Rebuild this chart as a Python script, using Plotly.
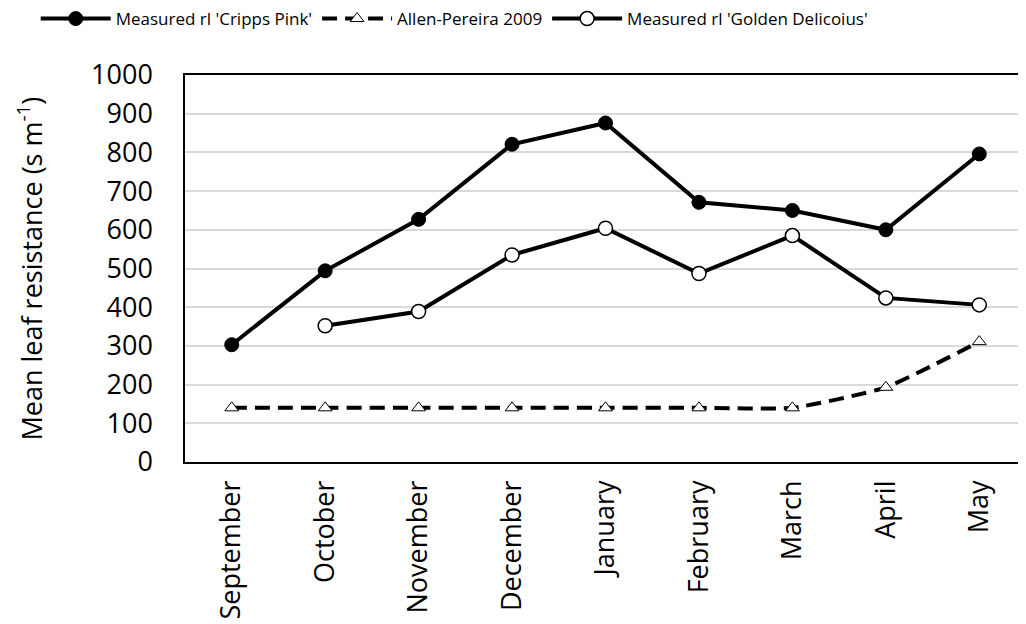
import plotly.graph_objects as go

months = ["September", "October", "November", "December", "January",
          "February", "March", "April", "May"]
cripps_pink = [303, 494, 627, 821, 876, 671, 650, 600, 796]
allen_pereira = [140, 140, 140, 140, 140, 140, 140, 193, 311]
golden_delicious = [None, 352, 389, 535, 604, 487, 585, 424, 406]
y_title = "Mean leaf resistance (s m<sup>-1</sup>)"

FONT = "Open Sans"

fig = go.Figure()
fig.add_trace(go.Scatter(
    x=months, y=cripps_pink, name="Measured rl 'Cripps Pink'",
    mode="lines+markers",
    line=dict(color="black", width=4),
    marker=dict(symbol="circle", size=14, color="black", line=dict(color="black", width=1)),
))
fig.add_trace(go.Scatter(
    x=months, y=allen_pereira, name="Allen-Pereira 2009",
    mode="lines+markers",
    line=dict(color="black", width=4, dash="15px,8px", shape="spline", smoothing=0.5),
    marker=dict(symbol="triangle-up", size=12, color="white", line=dict(color="black", width=1)),
))
fig.add_trace(go.Scatter(
    x=months, y=golden_delicious, name="Measured rl 'Golden Delicoius'",
    mode="lines+markers",
    line=dict(color="black", width=4),
    marker=dict(symbol="circle", size=14, color="white", line=dict(color="black", width=1.5)),
))

fig.update_layout(
    width=1026, height=624,
    margin=dict(l=177, r=8, t=67, b=170, autoexpand=False),
    paper_bgcolor="white", plot_bgcolor="white",
    font=dict(family=FONT, color="black"),
    showlegend=True,
    legend=dict(
        orientation="h", xref="container", yref="paper",
        x=0.027, xanchor="left", y=1.1447, yanchor="middle",
        font=dict(size=17, family=FONT, color="black"),
        itemwidth=70, traceorder="normal",
    ),
    xaxis=dict(
        type="category", range=[-0.5, 8.5], automargin=False,
        showline=True, linecolor="black", linewidth=1.5, mirror=True,
        showgrid=False, ticks="", tickangle=-90,
        tickfont=dict(size=27, family=FONT, color="black"),
        ticklabelstandoff=6,
    ),
    yaxis=dict(
        range=[0, 1000], dtick=100, tick0=0, automargin=False,
        showline=True, linecolor="black", linewidth=1.5, mirror=False,
        showgrid=True, gridcolor="#d9d9d9", gridwidth=1.5,
        zeroline=False, ticks="",
        tickfont=dict(size=27, family=FONT, color="black"),
        ticklabelstandoff=25,
    ),
    annotations=[dict(
        text=y_title, textangle=-90, showarrow=False,
        xref="paper", yref="paper", x=-0.1843, y=0.5,
        xanchor="center", yanchor="middle",
        font=dict(size=27, family=FONT, color="black"),
    )],
)

fig.write_html("out.html")
